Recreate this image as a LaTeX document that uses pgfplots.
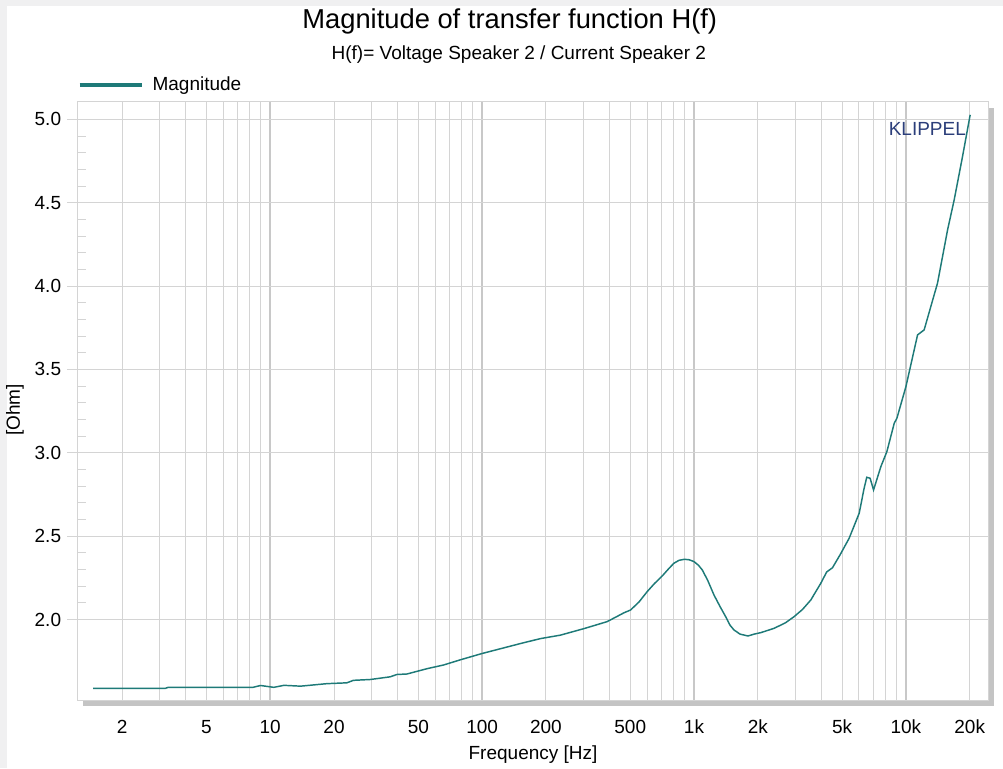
\documentclass[border=0pt]{standalone}
\usepackage{fontspec}
\setmainfont{Liberation Sans}
\usepackage{pgfplots}
\pgfplotsset{compat=1.18}
\definecolor{teal1}{RGB}{30,122,120}
\definecolor{gridc}{RGB}{212,212,212}
\definecolor{gridd}{RGB}{200,200,200}
\definecolor{shadowc}{RGB}{196,196,196}
\definecolor{bgc}{RGB}{240,240,241}
\definecolor{klip}{RGB}{43,62,122}
\begin{document}
\fontsize{14.25pt}{17pt}\selectfont
\begin{tikzpicture}
\fill[bgc] (0,0) rectangle (752.25pt,576pt);
\fill[white] (5.25pt,0) rectangle (752.25pt,571.5pt);
\fill[shadowc] (62.25pt,46.5pt) rectangle (745.5pt,495pt);
\begin{semilogxaxis}[
  at={(57.75pt,51pt)}, anchor=south west, scale only axis,
  width=683.25pt, height=448.5pt,
  xmin=1.225, xmax=24400, ymin=1.517, ymax=5.104,
  clip=false,
  axis background/.style={fill=white},
  axis line style={draw=gridc, line width=0.75pt},
  font=\fontsize{14.25pt}{17pt}\selectfont,
  /pgf/number format/assume math mode=true,
  xtick={10,100,1000,10000}, xticklabels={},
  minor xtick={2,3,4,5,6,7,8,9,20,30,40,50,60,70,80,90,200,300,400,500,600,700,800,900,2000,3000,4000,5000,6000,7000,8000,9000,20000},
  xmajorgrids=true, xminorgrids=true, ymajorgrids=true,
  major x grid style={draw=gridd, line width=1.5pt},
  minor x grid style={draw=gridc, line width=0.75pt},
  major y grid style={draw=gridc, line width=0.75pt},
  ytick={2,2.5,3,3.5,4,4.5,5}, minor y tick num=4,
  y tick label style={/pgf/number format/fixed, /pgf/number format/fixed zerofill, /pgf/number format/precision=1},
  tick align=inside, major tick length=0pt, minor tick length=7pt,
  tick style={draw=gridc, line width=0.75pt},
  xtick pos=bottom, ytick pos=left,
  extra y ticks={2,2.5,3,3.5,4,4.5,5},
  extra y tick labels={},
  extra y tick style={grid=none, tick align=outside, major tick length=7.5pt},
  extra x ticks={2,5,10,20,50,100,200,500,1000,2000,5000,10000,20000},
  extra x tick labels={2,5,10,20,50,100,200,500,1k,2k,5k,10k,20k},
  extra x tick style={grid=none, major tick length=0pt},
  xticklabel style={anchor=base, yshift=-24.75pt},
  yticklabel style={anchor=east, xshift=-7pt},
  xlabel={Frequency [Hz]},
  xlabel style={at={(axis description cs:0.5006,-0.092)}, anchor=center},
  ylabel={[Ohm]},
  ylabel style={at={(axis description cs:-0.068,0.485)}, anchor=center},
  legend style={draw=none, fill=none, at={(axis description cs:0,1.0284)}, anchor=west, inner sep=0pt, font=\fontsize{14.25pt}{17pt}\selectfont},
  legend image code/.code={\draw[#1, line width=3.5pt] (0pt,0pt) -- (46.5pt,0pt);},
]
\node[anchor=east, text=klip, inner sep=0pt] at (axis description cs:0.976,0.955) {KLIPPEL};
\addplot[teal1, line width=1.1pt] coordinates {
(1.46,1.587) (3.2,1.587) (3.3,1.593) (8.3,1.593) (9.0,1.604) (10.4,1.593)
(11.6,1.605) (13.9,1.600) (18.5,1.615) (23.0,1.620) (24.7,1.635) (29.7,1.640)
(36.8,1.656) (39.6,1.670) (44.2,1.673) (55.0,1.705) (65.8,1.727) (78.9,1.758)
(100,1.796) (151,1.855) (188,1.885) (234,1.906) (302,1.945) (389,1.987)
(467,2.040) (502,2.057) (550,2.105) (601,2.167) (650,2.215) (708,2.261) (760,2.305) (803,2.337) (850,2.355) (902,2.361)
(950,2.358) (1000,2.347) (1050,2.325) (1094,2.297) (1160,2.235) (1242,2.147) (1330,2.075) (1410,2.017) (1480,1.965) (1544,1.937) (1650,1.912) (1798,1.901)
(1920,1.912) (2066,1.921) (2388,1.947) (2700,1.980) (2967,2.017) (3250,2.060) (3558,2.117) (3965,2.217) (4227,2.285)
(4500,2.31) (4900,2.39) (5395,2.487) (6017,2.637) (6350,2.787) (6535,2.853) (6778,2.847)
(7035,2.777) (7617,2.917) (8130,3.007) (8807,3.177) (9067,3.207) (10000,3.397)
(11349,3.707) (12190,3.737) (14093,4.017) (15726,4.337) (16895,4.517) (18500,4.777)
(20100,5.027)
};
\addlegendentry{\hspace{4.5pt}Magnitude}
\node[font=\fontsize{20.5pt}{24pt}\selectfont] at (axis description cs:0.475,1.134) {Magnitude of transfer function H(f)};
\node at (axis description cs:0.485,1.080) {H(f)= Voltage Speaker 2 / Current Speaker 2};
\end{semilogxaxis}
\pgfresetboundingbox
\path (0,0) rectangle (752.25pt,576pt);
\end{tikzpicture}
\end{document}
